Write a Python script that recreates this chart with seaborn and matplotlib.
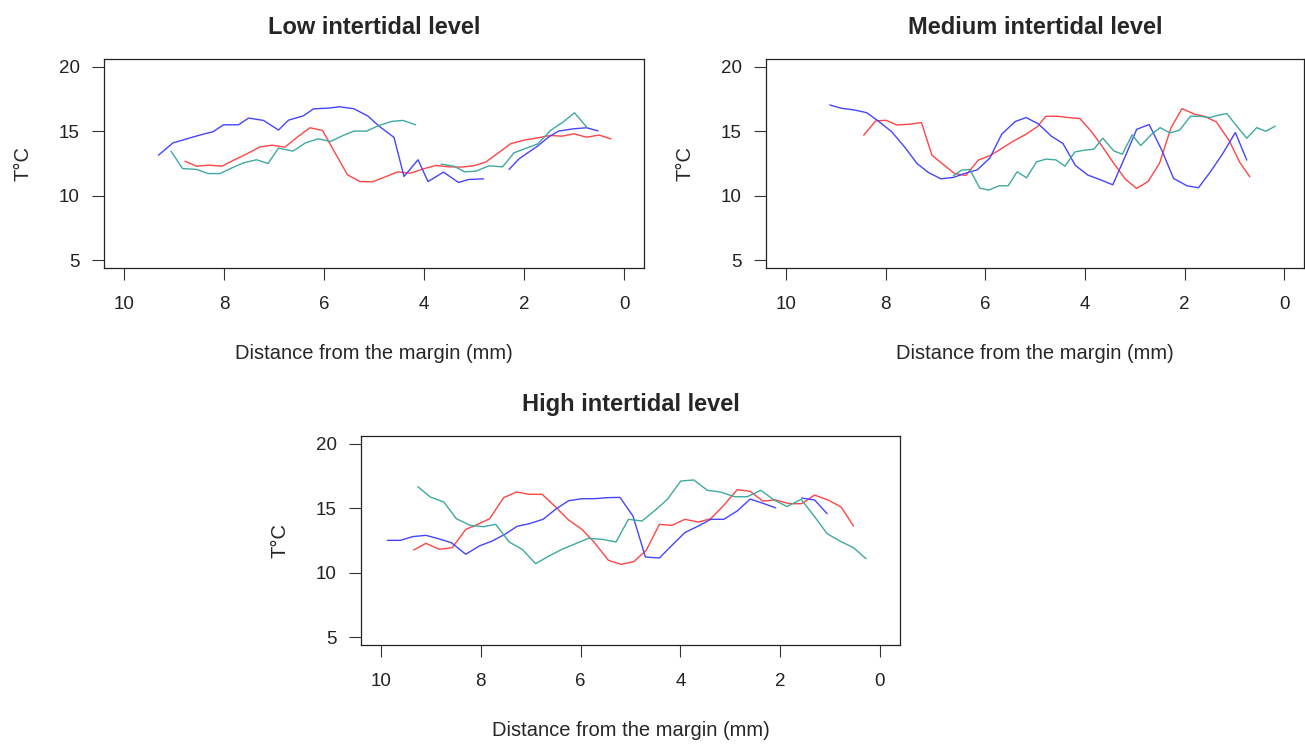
import numpy as np
import pandas as pd
import seaborn as sns
import matplotlib
matplotlib.use('Agg')
import matplotlib.pyplot as plt

nan = np.nan

# Low intertidal level (nan = gap in the record)
low_red_x = [8.78, 8.55, 8.30, 8.04, 7.78, 7.54, 7.28, 7.04, 6.78, 6.51, 6.28, 6.03, 5.78, 5.53, 5.28,
             5.03, 4.77, 4.53, 4.27, 4.01, 3.76, 3.51, 3.26, 3.01, 2.77, 2.51, 2.27, 2.00, 1.75, 1.48,
             1.24, 1.00, 0.75, 0.50, 0.26]
low_red_y = [12.68, 12.29, 12.37, 12.29, 12.81, 13.25, 13.79, 13.92, 13.77, 14.62, 15.27, 15.06, 13.33,
             11.62, 11.10, 11.08, 11.47, 11.85, 11.75, 12.09, 12.35, 12.24, 12.22, 12.32, 12.60, 13.33,
             14.03, 14.31, 14.47, 14.67, 14.62, 14.80, 14.54, 14.70, 14.41]
low_blue_x = [9.31, 9.02, 8.83, 8.63, 8.41, 8.22, 8.01, 7.71, 7.51, 7.21, 6.91, 6.71, 6.41, 6.21, 5.91,
              5.69, 5.40, 5.12, 4.90, 4.60, 4.40, 4.12, 3.92, 3.61, 3.31, 3.11, 2.81, nan,
              2.30, 2.10, 1.73, 1.50, 1.31, 1.01, 0.75, 0.52]
low_blue_y = [13.15, 14.10, 14.31, 14.54, 14.78, 14.96, 15.50, 15.50, 16.02, 15.84, 15.09, 15.86, 16.20,
              16.74, 16.79, 16.90, 16.74, 16.17, 15.40, 14.52, 11.49, 12.79, 11.10, 11.83, 11.03, 11.26,
              11.31, nan, 12.04, 12.86, 13.85, 14.57, 15.01, 15.19, 15.27, 15.03]
low_teal_x = [9.06, 8.83, 8.55, 8.32, 8.08, 7.84, 7.61, 7.35, 7.12, 6.91, 6.62, 6.37, 6.12, 5.87, 5.62,
              5.40, 5.15, 4.90, 4.65, 4.42, 4.17, nan,
              3.66, 3.40, 3.19, 2.96, 2.70, 2.43, 2.20, 1.93, 1.72, 1.47, 1.22, 0.99, 0.74]
low_teal_y = [13.46, 12.11, 12.04, 11.72, 11.72, 12.16, 12.55, 12.79, 12.50, 13.69, 13.46, 14.10, 14.41,
              14.21, 14.67, 15.01, 15.01, 15.45, 15.76, 15.84, 15.50, nan,
              12.45, 12.29, 11.85, 11.91, 12.32, 12.24, 13.33, 13.72, 14.03, 15.06, 15.71, 16.43, 15.29]

# Medium intertidal level
med_red_x = [8.44, 8.20, 7.99, 7.78, 7.53, 7.28, 7.07, 6.85, 6.62, 6.39, 6.14, 5.89, 5.67, 5.43, 5.18,
             4.96, 4.78, 4.55, 4.33, 4.10, 3.88, 3.66, 3.41, 3.18, 2.96, 2.73, 2.50, 2.27, 2.05, 1.79,
             1.60, 1.36, 1.10, 0.89, 0.69]
med_red_y = [14.69, 15.80, 15.85, 15.49, 15.54, 15.67, 13.14, 12.45, 11.73, 11.57, 12.76, 13.14, 13.66,
             14.25, 14.77, 15.34, 16.16, 16.16, 16.06, 15.98, 15.03, 13.87, 12.45, 11.26, 10.57, 11.11,
             12.53, 15.28, 16.75, 16.31, 16.16, 15.72, 14.25, 12.58, 11.47]
med_blue_x = [9.12, 8.89, 8.63, 8.38, 8.15, 7.88, 7.61, 7.37, 7.14, 6.89, 6.64, 6.41, 6.16, 5.91, 5.67,
              5.40, 5.18, 4.94, 4.67, 4.44, 4.19, 3.94, 3.69, 3.44, 3.20, 2.96, 2.71, 2.45, 2.22, 1.95,
              1.72, 1.49, 1.24, 0.98, 0.75]
med_blue_y = [17.04, 16.78, 16.65, 16.44, 15.80, 14.97, 13.74, 12.50, 11.80, 11.31, 11.42, 11.73, 12.01,
              12.91, 14.77, 15.75, 16.06, 15.59, 14.61, 14.05, 12.35, 11.60, 11.24, 10.85, 12.96, 15.15,
              15.52, 13.48, 11.34, 10.77, 10.62, 11.80, 13.22, 14.90, 12.76]
med_teal_x = [6.64, 6.48, 6.31, 6.11, 5.93, 5.72, 5.54, 5.36, 5.17, 4.97, 4.78, 4.58, 4.40, 4.20, 4.01,
              3.82, 3.64, 3.42, 3.25, 3.05, 2.88, 2.66, 2.49, 2.29, 2.10, 1.88, 1.69, 1.49, 1.33, 1.15,
              0.94, 0.75, 0.55, 0.37, 0.18]
med_teal_y = [11.55, 11.98, 12.04, 10.59, 10.44, 10.77, 10.77, 11.86, 11.39, 12.63, 12.84, 12.78, 12.29,
              13.40, 13.53, 13.61, 14.46, 13.48, 13.22, 14.72, 13.89, 14.77, 15.28, 14.87, 15.08, 16.16,
              16.16, 16.06, 16.24, 16.37, 15.34, 14.46, 15.28, 15.00, 15.39]

# High intertidal level
high_red_x = [9.34, 9.10, 8.83, 8.57, 8.30, 8.06, 7.82, 7.54, 7.28, 7.03, 6.77, 6.50, 6.24, 5.97, 5.72,
              5.44, 5.19, 4.93, 4.68, 4.42, 4.17, 3.91, 3.64, 3.39, 3.13, 2.86, 2.60, 2.35, 2.09, 1.82,
              1.57, 1.31, 1.04, 0.78, 0.53]
high_red_y = [11.76, 12.28, 11.82, 11.94, 13.36, 13.75, 14.19, 15.82, 16.26, 16.08, 16.08, 15.10, 14.09,
              13.36, 12.33, 10.96, 10.65, 10.86, 11.76, 13.75, 13.67, 14.14, 13.93, 14.19, 15.22, 16.44,
              16.31, 15.56, 15.64, 15.35, 15.35, 16.02, 15.64, 15.10, 13.62]
high_blue_x = [9.87, 9.61, 9.36, 9.10, 8.85, 8.59, 8.30, 8.03, 7.77, 7.52, 7.27, 7.03, 6.75, 6.50, 6.24,
               5.97, 5.72, 5.46, 5.21, 4.95, 4.70, 4.42, 4.17, 3.91, 3.64, 3.39, 3.13, 2.86, 2.60, 2.35,
               2.09, nan, 1.57, 1.31, 1.06]
high_blue_y = [12.51, 12.51, 12.80, 12.90, 12.64, 12.33, 11.43, 12.07, 12.46, 12.97, 13.60, 13.80, 14.14,
               14.92, 15.58, 15.74, 15.74, 15.82, 15.84, 14.40, 11.22, 11.14, 12.12, 13.11, 13.62, 14.14,
               14.14, 14.79, 15.71, 15.39, 15.03, nan, 15.79, 15.64, 14.58]
high_teal_x = [9.26, 9.01, 8.74, 8.49, 8.21, 7.95, 7.70, 7.43, 7.17, 6.90, 6.63, 6.37, 6.10, 5.84, 5.57,
               5.29, 5.04, 4.77, 4.52, 4.26, 3.99, 3.73, 3.46, 3.20, 2.91, 2.66, 2.39, 2.11, 1.86, 1.58,
               1.31, 1.06, 0.78, 0.53, 0.28]
high_teal_y = [16.67, 15.87, 15.48, 14.19, 13.67, 13.57, 13.75, 12.38, 11.82, 10.70, 11.30, 11.82, 12.25,
               12.67, 12.59, 12.38, 14.14, 14.01, 14.79, 15.69, 17.11, 17.19, 16.39, 16.26, 15.89, 15.89,
               16.39, 15.61, 15.13, 15.69, 14.35, 13.03, 12.41, 11.94, 11.09]

x_ticks = [0, 2, 4, 6, 8, 10]
y_ticks = [5, 10, 15, 20]
palette = {'red': '#ff4545', 'blue': '#4545ff', 'teal': '#3fa9a1'}


def to_frame(series):
    # long table, a new segment starts after every nan so the line breaks there
    rows = []
    for name, xs, ys in series:
        seg = 0
        for x, y in zip(xs, ys):
            if np.isnan(x) or np.isnan(y):
                seg += 1
                continue
            rows.append((name, f'{name}{seg}', x, y))
    return pd.DataFrame(rows, columns=['series', 'segment', 'dist', 'temp'])


panels = [
    ('Low intertidal level', [0.0797, 0.6398, 0.4138, 0.2809],
     [('red', low_red_x, low_red_y), ('blue', low_blue_x, low_blue_y), ('teal', low_teal_x, low_teal_y)]),
    ('Medium intertidal level', [0.5870, 0.6398, 0.4123, 0.2809],
     [('red', med_red_x, med_red_y), ('blue', med_blue_x, med_blue_y), ('teal', med_teal_x, med_teal_y)]),
    ('High intertidal level', [0.2766, 0.1331, 0.4130, 0.2809],
     [('red', high_red_x, high_red_y), ('blue', high_blue_x, high_blue_y), ('teal', high_teal_x, high_teal_y)]),
]

sns.set_theme(style='white')
plt.rcParams['font.family'] = ['Liberation Sans', 'DejaVu Sans']

fig = plt.figure(figsize=(13.05, 7.44), dpi=100)

for title, rect, series in panels:
    ax = fig.add_axes(rect)
    df = to_frame(series)
    sns.lineplot(data=df, x='dist', y='temp', hue='series', units='segment', estimator=None,
                 sort=False, palette=palette, linewidth=1.0, legend=False, ax=ax)
    ax.set_xlim(10.4, -0.4)
    ax.set_ylim(4.4, 20.6)
    ax.set_xticks(x_ticks)
    ax.set_yticks(y_ticks)
    ax.tick_params(axis='both', direction='out', length=8.5, width=0.8, color='#333333',
                   labelsize=13.5, labelcolor='#222222', bottom=True, left=True)
    ax.tick_params(axis='x', pad=12)
    ax.tick_params(axis='y', pad=9)
    for sp in ax.spines.values():
        sp.set_visible(True)
        sp.set_color('#222222')
        sp.set_linewidth(0.9)
    ax.set_title(title, fontsize=17, fontweight='bold', pad=18)
    ax.set_xlabel('Distance from the margin (mm)', fontsize=14.5, labelpad=22)
    ax.set_ylabel('T°C', fontsize=14.5, labelpad=19)

fig.savefig('out.png', dpi=100, facecolor='white')
